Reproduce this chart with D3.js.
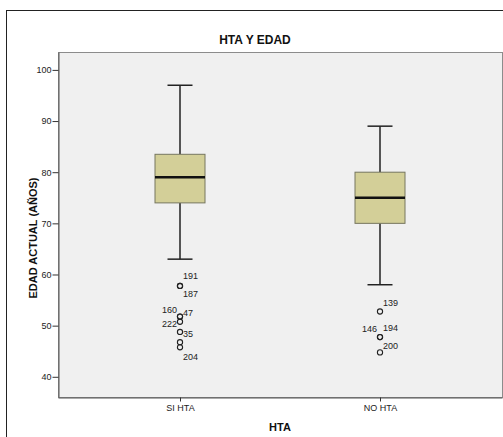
<!DOCTYPE html>
<html>
<head>
<meta charset="utf-8">
<script src="https://cdn.jsdelivr.net/npm/d3@7"></script>
<style>
  html, body { margin: 0; padding: 0; background: #fff; }
  svg { display: block; font-family: "Liberation Sans", Arial, sans-serif; }
</style>
</head>
<body>
<svg id="chart" width="503" height="437"></svg>
<script>
// Box-plot summaries per group (age in years)
const categories = ["SI HTA", "NO HTA"];
const whiskerLow  = [63, 58];
const q1          = [74, 70];
const medians     = [79, 75];
const q3          = [83.5, 80];
const whiskerHigh = [97, 89];

// Outlying cases: group index, age, case number
const outlierGroup = [0, 0, 0, 0, 0, 0, 0, 0, 1, 1, 1, 1];
const outlierAge   = [58, 58, 52, 52, 51, 49, 47, 46, 53, 48, 48, 45];
const outlierCase  = ["191", "187", "160", "47", "222", "35", "", "204", "139", "146", "194", "200"];
// Label anchoring around each marker (side and vertical shift)
const labelSide  = ["r", "r", "l", "r", "l", "r", "r", "r", "r", "l", "r", "r"];
const labelShift = [-10, 8, -7, -4, 2, 2, 0, 10, -9, -8, -9, -7];

const yTicks = [40, 50, 60, 70, 80, 90, 100];

const svg = d3.select("#chart");
const plot = { left: 58, top: 52, right: 502, bottom: 397 };

// outer frame
svg.append("rect")
  .attr("x", 6.5).attr("y", 10.5)
  .attr("width", 510).attr("height", 440)
  .attr("fill", "#fff").attr("stroke", "#222").attr("stroke-width", 1);

// plot background
svg.append("rect")
  .attr("x", plot.left + 0.5).attr("y", plot.top + 0.5)
  .attr("width", plot.right - plot.left).attr("height", plot.bottom - plot.top)
  .attr("fill", "#f0f0f0").attr("stroke", "#8c8c8c").attr("stroke-width", 1);

const x = d3.scalePoint().domain(categories).range([plot.left, plot.right]).padding(0.61);
const y = d3.scaleLinear().domain([36.05, 103.5]).range([plot.bottom, plot.top]);

// y axis
const yAxis = svg.append("g")
  .attr("transform", `translate(${plot.left + 0.5},0)`)
  .call(d3.axisLeft(y).tickValues(yTicks).tickSizeInner(6).tickSizeOuter(0)
    .tickPadding(1).tickFormat(d3.format("d")));
yAxis.select(".domain").attr("stroke", "#555");
yAxis.selectAll(".tick line").attr("stroke", "#333");
yAxis.selectAll(".tick text").attr("font-size", 9).attr("fill", "#222")
  .attr("font-family", "Liberation Sans, Arial, sans-serif");

// x axis
const xAxis = svg.append("g")
  .attr("transform", `translate(0,${plot.bottom + 0.5})`)
  .call(d3.axisBottom(x).tickSizeInner(4).tickSizeOuter(0).tickPadding(3));
xAxis.select(".domain").attr("stroke", "#555");
xAxis.selectAll(".tick line").attr("stroke", "#333");
xAxis.selectAll(".tick text").attr("font-size", 9).attr("fill", "#222")
  .attr("font-family", "Liberation Sans, Arial, sans-serif");

// boxes
const boxW = 50, capW = 25;
const groups = svg.append("g").selectAll("g").data(categories).join("g");

groups.append("line")
  .attr("x1", d => x(d)).attr("x2", d => x(d))
  .attr("y1", (d, i) => y(whiskerHigh[i])).attr("y2", (d, i) => y(q3[i]))
  .attr("stroke", "#222").attr("stroke-width", 1.5);
groups.append("line")
  .attr("x1", d => x(d)).attr("x2", d => x(d))
  .attr("y1", (d, i) => y(q1[i])).attr("y2", (d, i) => y(whiskerLow[i]))
  .attr("stroke", "#222").attr("stroke-width", 1.5);
[whiskerHigh, whiskerLow].forEach(arr => {
  groups.append("line")
    .attr("x1", d => x(d) - capW / 2).attr("x2", d => x(d) + capW / 2)
    .attr("y1", (d, i) => y(arr[i])).attr("y2", (d, i) => y(arr[i]))
    .attr("stroke", "#222").attr("stroke-width", 1.5);
});
groups.append("rect")
  .attr("x", d => x(d) - boxW / 2)
  .attr("y", (d, i) => y(q3[i]))
  .attr("width", boxW)
  .attr("height", (d, i) => y(q1[i]) - y(q3[i]))
  .attr("fill", "#d3cf98").attr("stroke", "#76765f").attr("stroke-width", 1);
groups.append("line")
  .attr("x1", d => x(d) - boxW / 2).attr("x2", d => x(d) + boxW / 2)
  .attr("y1", (d, i) => y(medians[i])).attr("y2", (d, i) => y(medians[i]))
  .attr("stroke", "#111").attr("stroke-width", 2.5);

// outliers
const outl = outlierAge.map((v, i) => ({
  v, g: categories[outlierGroup[i]], id: outlierCase[i], side: labelSide[i], dy: labelShift[i]
}));
svg.append("g").selectAll("circle").data(outl).join("circle")
  .attr("cx", d => x(d.g)).attr("cy", d => y(d.v) + 1.2)
  .attr("r", 2.6)
  .attr("fill", "none").attr("stroke", "#222").attr("stroke-width", 1.1);
svg.append("g").selectAll("text").data(outl.filter(d => d.id)).join("text")
  .attr("x", d => x(d.g) + (d.side === "r" ? 3 : -3))
  .attr("y", d => y(d.v) + 1.2 + d.dy)
  .attr("dy", "0.35em")
  .attr("text-anchor", d => d.side === "r" ? "start" : "end")
  .attr("font-size", 9).attr("fill", "#222")
  .text(d => d.id);

// titles
svg.append("text")
  .attr("x", 255).attr("y", 44)
  .attr("text-anchor", "middle")
  .attr("font-size", 12).attr("font-weight", "bold").attr("fill", "#111")
  .text("HTA Y EDAD");
svg.append("text")
  .attr("x", (plot.left + plot.right) / 2).attr("y", 431)
  .attr("text-anchor", "middle")
  .attr("font-size", 11).attr("font-weight", "bold").attr("fill", "#111")
  .text("HTA");
svg.append("text")
  .attr("transform", "translate(37,238) rotate(-90)")
  .attr("text-anchor", "middle")
  .attr("font-size", 11).attr("font-weight", "bold").attr("fill", "#111")
  .text("EDAD ACTUAL (AÑOS)");
</script>
</body>
</html>
